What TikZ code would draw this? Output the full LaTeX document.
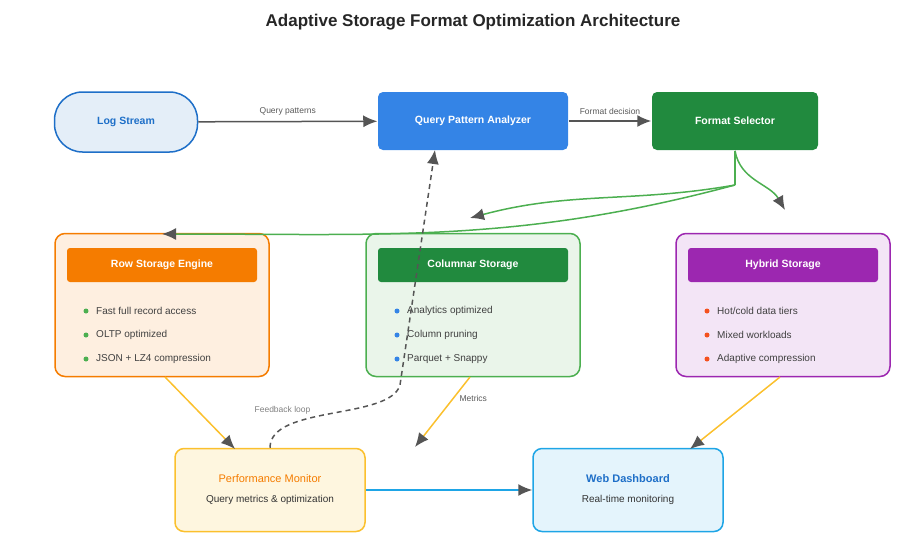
\documentclass[tikz,border=0pt]{standalone}
\usepackage{fontspec}
\setmainfont{Liberation Sans}
\usepackage{tikz}
\usetikzlibrary{arrows.meta,positioning,calc,shapes.geometric}
\definecolor{arrgray}{HTML}{555555}
\definecolor{logblue}{HTML}{1E6FC8}
\definecolor{qpablue}{HTML}{3484E6}
\definecolor{fsgreen}{HTML}{218A3E}
\definecolor{rowor}{HTML}{F57C00}
\definecolor{colgreen}{HTML}{4CAF50}
\definecolor{hybpur}{HTML}{9C27B0}
\definecolor{pmyel}{HTML}{FBC02D}
\definecolor{wdblue}{HTML}{1EA5E6}
\definecolor{hotred}{HTML}{F4511E}
\begin{document}
\begin{tikzpicture}[
            x=1pt,y=-1pt,
            every node/.style={font=\fontsize{10}{12}\selectfont},
            box/.style={draw,line width=1.5pt,rounded corners=9pt,minimum width=190pt,minimum height=58pt,align=center},
            store/.style={draw,line width=1.5pt,rounded corners=10pt,minimum width=214pt,minimum height=143pt},
            head/.style={rounded corners=3pt,minimum width=190pt,minimum height=34pt,text=white,font=\bfseries\fontsize{10.5}{12}\selectfont},
            item/.style={anchor=west,text=black!75},
            dot/.style={circle,inner sep=0pt,minimum size=5pt},
            flow/.style={-{Latex[length=14pt,width=12pt]},line width=1.5pt},
            lbl/.style={text=black!65,font=\fontsize{8.5}{10}\selectfont}
        ]
        \useasboundingbox (0,0) rectangle (924,542);

        % Title %
        \node[font=\bfseries\fontsize{17}{20}\selectfont,text=black!85] (title) at (473,22) {Adaptive Storage Format Optimization Architecture};

        % Top row %
        \node[box,rounded corners=28pt,minimum width=143pt,minimum height=60pt,draw=logblue,fill=logblue!12,text=logblue,font=\bfseries\fontsize{10.5}{12}\selectfont] (log) at (126,122) {Log Stream};
        \node[box,draw=none,fill=qpablue,text=white,font=\bfseries\fontsize{10.5}{12}\selectfont,rounded corners=5pt] (qpa) at (473,121) {Query Pattern Analyzer};
        \node[box,minimum width=166pt,draw=none,fill=fsgreen,text=white,font=\bfseries\fontsize{10.5}{12}\selectfont,rounded corners=5pt] (fs) at (735,121) {Format Selector};

        % Storage engines %
        \foreach \name/\x/\col/\hcol/\title/\ia/\ib/\ic/\dcol in {
            row/162/rowor/rowor/Row Storage Engine/Fast full record access/OLTP optimized/JSON + LZ4 compression/colgreen,
            col/473/colgreen/fsgreen/Columnar Storage/Analytics optimized/Column pruning/Parquet + Snappy/qpablue,
            hyb/783/hybpur/hybpur/Hybrid Storage/{Hot/cold data tiers}/Mixed workloads/Adaptive compression/hotred}{
            \node[store,draw=\col,fill=\col!12] (\name) at (\x,305) {};
            \node[head,fill=\hcol] (\name-h) at (\x,265) {\title};
            \node[dot,fill=\dcol] (\name-d1) at (\x-76,311) {};
            \node[dot,fill=\dcol] (\name-d2) at (\x-76,335) {};
            \node[dot,fill=\dcol] (\name-d3) at (\x-76,359) {};
            \node[item,right=4pt of \name-d1] {\ia};
            \node[item,right=4pt of \name-d2] {\ib};
            \node[item,right=4pt of \name-d3] {\ic};
        }

        % Bottom row %
        \node[box,minimum height=83pt,draw=pmyel,fill=pmyel!15] (pm) at (270,490) {{\color{rowor}\fontsize{11}{13}\selectfont Performance Monitor}\\[8pt]{\color{black!80}Query metrics \& optimization}};
        \node[box,minimum height=83pt,draw=wdblue,fill=wdblue!12] (wd) at (628,490) {{\color{logblue}\bfseries\fontsize{11}{13}\selectfont Web Dashboard}\\[8pt]{\color{black!80}Real-time monitoring}};

        % Arrows %
        \draw[flow,arrgray] (log) -- node[lbl,above=2pt] {Query patterns} (qpa);
        \draw[flow,arrgray] (qpa) -- node[lbl,above=2pt] {Format decision} (fs);
        \coordinate (fsk) at (735,185);
        \coordinate (rowin) at (162,234);
        \coordinate (colin) at (470,218);
        \coordinate (hybin) at (785,210);
        \draw[line width=1.5pt,colgreen] (fs.south) -- (fsk);
        \draw[flow,colgreen,-{Latex[length=14pt,width=12pt,color=arrgray]}] (fsk) to[out=195,in=0] (rowin);
        \draw[flow,colgreen,-{Latex[length=14pt,width=12pt,color=arrgray]}] (fsk) to[out=190,in=15] (colin);
        \draw[flow,colgreen,-{Latex[length=14pt,width=12pt,color=arrgray]}] (fs.south) to[out=-80,in=120] (hybin);

        \draw[flow,arrgray,dashed,dash pattern=on 5pt off 4pt] (pm.north) .. controls (270,405) and (390,420) .. node[lbl,pos=0.42,above left=-2pt and 2pt,text=black!50] {Feedback loop} (400,385) -- (435,150);
        \coordinate (pmin) at (415,447);
        \draw[flow,pmyel,-{Latex[length=14pt,width=12pt,color=arrgray]}] (470,377) -- node[lbl,pos=0.3,right=2pt] {Metrics} (pmin);
        \draw[flow,pmyel,-{Latex[length=14pt,width=12pt,color=arrgray]}] (165,377) -- (235,449);
        \draw[flow,pmyel,-{Latex[length=14pt,width=12pt,color=arrgray]}] (780,377) -- (690,449);
        \draw[flow,wdblue,-{Latex[length=14pt,width=12pt,color=arrgray]}] (pm) -- (wd);
        \end{tikzpicture}
\end{document}
